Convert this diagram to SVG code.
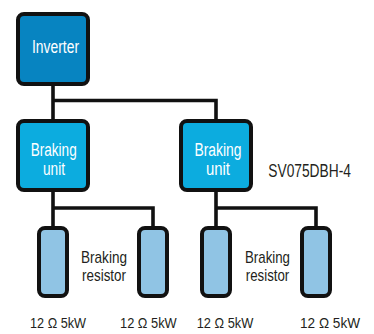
<svg xmlns="http://www.w3.org/2000/svg" width="374" height="334" viewBox="0 0 374 334">
<style>
.box{stroke:#111;stroke-width:4}
.inv{fill:#0784c1}
.bu{fill:#0cacdf}
.res{fill:#90c4e4}
.wire{fill:none;stroke:#111;stroke-width:3.6}
text{font-family:"Liberation Sans",Arial,sans-serif;font-size:18px}
.w{fill:#fff;text-anchor:middle}
.k{fill:#231f20}
.m{text-anchor:middle;font-size:17px}
.v{font-size:14.5px}
</style>
<rect width="374" height="334" fill="#fff"/>
<g id="connectors">
<path class="wire" d="M53 86V119M53 100.5H216V119"/>
<path class="wire" d="M53 192V228M53 208H153V228"/>
<path class="wire" d="M216 192V228M216 208H316V228"/>
</g>
<g id="inverter">
<rect class="box inv" x="18" y="14" width="70" height="70" rx="6"/>
<text class="w" x="55.5" y="53" textLength="47" lengthAdjust="spacingAndGlyphs">Inverter</text>
</g>
<g id="braking-unit-1">
<rect class="box bu" x="18" y="121" width="70" height="69" rx="6"/>
<text class="w" x="53.7" y="155.5" textLength="46" lengthAdjust="spacingAndGlyphs">Braking</text>
<text class="w" x="54" y="175" textLength="22" lengthAdjust="spacingAndGlyphs">unit</text>
</g>
<g id="braking-unit-2">
<rect class="box bu" x="181" y="121" width="70" height="69" rx="6"/>
<text class="w" x="218" y="155.5" textLength="47" lengthAdjust="spacingAndGlyphs">Braking</text>
<text class="w" x="218" y="175" textLength="24" lengthAdjust="spacingAndGlyphs">unit</text>
</g>
<g id="model-label">
<text class="k" transform="translate(268.3 176.5) scale(0.765 1)" x="0" y="0">SV075DBH-4</text>
</g>
<g id="resistor-1">
<rect class="box res" x="39" y="228" width="28" height="68" rx="6"/>
<text class="k v" x="30" y="327.5" textLength="56" lengthAdjust="spacingAndGlyphs">12 Ω 5kW</text>
</g>
<g id="resistor-2">
<rect class="box res" x="139" y="228" width="28" height="68" rx="6"/>
<text class="k v" x="120" y="327.5" textLength="56.7" lengthAdjust="spacingAndGlyphs">12 Ω 5kW</text>
</g>
<g id="resistor-3">
<rect class="box res" x="202" y="228" width="28" height="68" rx="6"/>
<text class="k v" x="196.7" y="327.5" textLength="56.6" lengthAdjust="spacingAndGlyphs">12 Ω 5kW</text>
</g>
<g id="resistor-4">
<rect class="box res" x="302" y="228" width="28" height="68" rx="6"/>
<text class="k v" x="300" y="327.5" textLength="60" lengthAdjust="spacingAndGlyphs">12 Ω 5kW</text>
</g>
<g id="resistor-label-1">
<text class="k m" x="104" y="262.7" textLength="46" lengthAdjust="spacingAndGlyphs">Braking</text>
<text class="k m" x="104" y="281" textLength="44" lengthAdjust="spacingAndGlyphs">resistor</text>
</g>
<g id="resistor-label-2">
<text class="k m" x="267.5" y="262.8" textLength="45" lengthAdjust="spacingAndGlyphs">Braking</text>
<text class="k m" x="267.5" y="281.2" textLength="43.5" lengthAdjust="spacingAndGlyphs">resistor</text>
</g>
</svg>
